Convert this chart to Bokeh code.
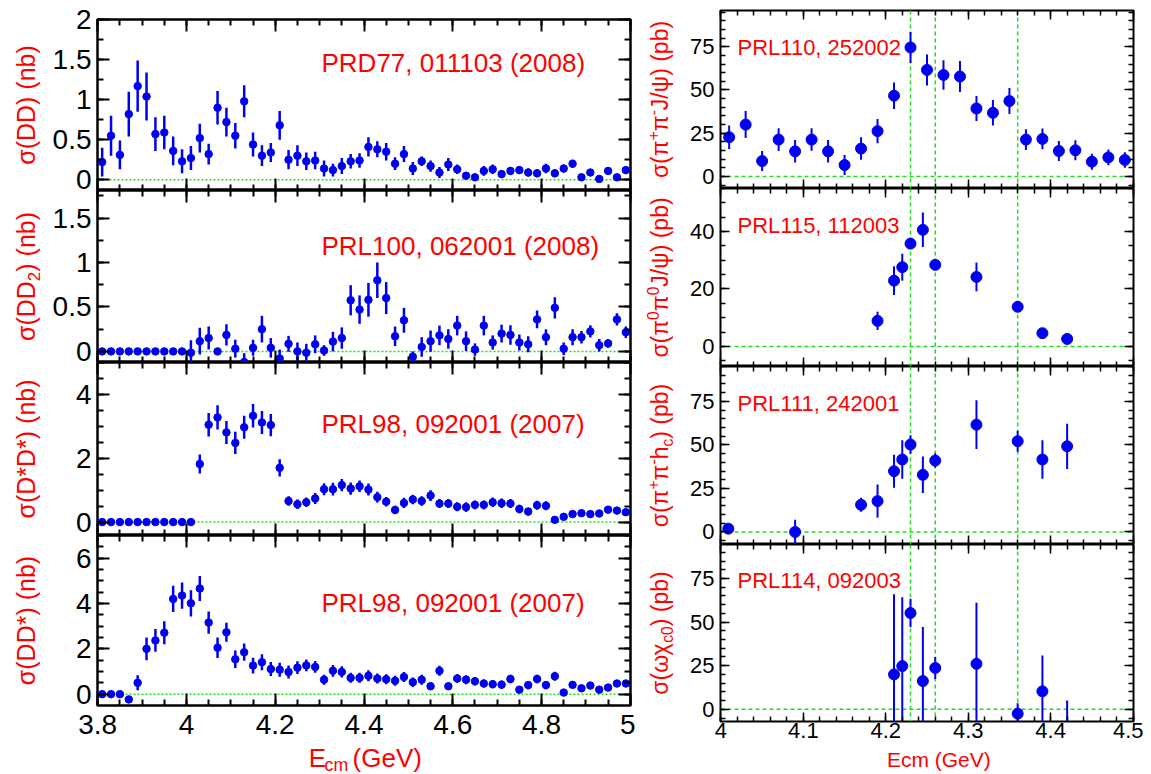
import math
import numpy as np
from bokeh.plotting import figure
from bokeh.models import Range1d, FixedTicker, LinearAxis, Span, Label, ColumnDataSource
from bokeh.layouts import row, column
from bokeh.embed import file_html
from bokeh.resources import INLINE

FONT = "Liberation Sans"
BLUE = "#0000f0"
RED = "#ff0000"
GREEN = "#22dd22"

# ---------------------------------------------------------------- data
ecm_scan = [3.81, 3.83, 3.85, 3.87, 3.89, 3.91, 3.93, 3.95, 3.97, 3.99,
            4.01, 4.03, 4.05, 4.07, 4.09, 4.11, 4.13, 4.15, 4.17, 4.19,
            4.21, 4.23, 4.25, 4.27, 4.29, 4.31, 4.33, 4.35, 4.37, 4.39,
            4.41, 4.43, 4.45, 4.47, 4.49, 4.51, 4.53, 4.55, 4.57, 4.59,
            4.61, 4.63, 4.65, 4.67, 4.69, 4.71, 4.73, 4.75, 4.77, 4.79,
            4.81, 4.83, 4.85, 4.87, 4.89, 4.91, 4.93, 4.95, 4.97, 4.99]

sig_dd = [0.22, 0.55, 0.31, 0.82, 1.17, 1.04, 0.57, 0.59, 0.36, 0.23,
          0.27, 0.52, 0.32, 0.90, 0.72, 0.55, 0.98, 0.44, 0.30, 0.34,
          0.68, 0.25, 0.30, 0.23, 0.24, 0.14, 0.12, 0.17, 0.23, 0.24,
          0.41, 0.38, 0.35, 0.20, 0.32, 0.14, 0.23, 0.17, 0.09, 0.19,
          0.13, 0.05, 0.03, 0.11, 0.13, 0.07, 0.11, 0.12, 0.09, 0.08,
          0.14, 0.08, 0.14, 0.20, 0.03, 0.09, 0.01, 0.11, 0.03, 0.12]
err_dd = [0.18, 0.25, 0.18, 0.28, 0.32, 0.30, 0.21, 0.21, 0.18, 0.15,
          0.15, 0.18, 0.13, 0.21, 0.18, 0.16, 0.20, 0.15, 0.13, 0.12,
          0.18, 0.12, 0.13, 0.11, 0.11, 0.10, 0.08, 0.10, 0.09, 0.09,
          0.12, 0.10, 0.11, 0.08, 0.10, 0.08, 0.06, 0.07, 0.07, 0.08,
          0.06, 0.04, 0.04, 0.06, 0.06, 0.05, 0.05, 0.05, 0.05, 0.05,
          0.06, 0.05, 0.05, 0.05, 0.03, 0.04, 0.03, 0.04, 0.03, 0.04]

sig_dd2 = [0, 0, 0, 0, 0, 0, 0, 0, 0, 0,
           -0.015, 0.115, 0.15, 0.0, 0.185, 0.03, -0.12, 0.04, 0.25, 0.04,
           -0.08, 0.085, 0.0, -0.015, 0.08, 0.01, 0.11, 0.15, 0.575, 0.47,
           0.58, 0.80, 0.60, 0.17, 0.35, -0.06, 0.05, 0.115, 0.18, 0.14,
           0.29, 0.115, 0.02, 0.29, 0.10, 0.20, 0.185, 0.10, 0.08, 0.36,
           0.16, 0.49, 0.03, 0.16, 0.16, 0.225, 0.07, 0.09, 0.36, 0.215]
err_dd2 = [0, 0, 0, 0, 0, 0, 0, 0, 0, 0,
           0.14, 0.15, 0.13, 0.0, 0.12, 0.10, 0.10, 0.09, 0.15, 0.11,
           0.10, 0.09, 0.10, 0.10, 0.10, 0.06, 0.11, 0.12, 0.17, 0.16,
           0.19, 0.20, 0.18, 0.11, 0.14, 0.06, 0.11, 0.12, 0.11, 0.11,
           0.11, 0.11, 0.07, 0.11, 0.08, 0.10, 0.11, 0.09, 0.09, 0.10,
           0.09, 0.12, 0.07, 0.09, 0.07, 0.07, 0.07, 0.05, 0.07, 0.065]

sig_dsds = [0, 0, 0, 0, 0, 0, 0, 0, 0, 0,
            0, 1.82, 3.05, 3.28, 2.81, 2.48, 2.97, 3.33, 3.12, 3.04,
            1.70, 0.66, 0.56, 0.62, 0.74, 1.03, 1.03, 1.16, 1.05, 1.12,
            1.02, 0.78, 0.64, 0.38, 0.60, 0.71, 0.66, 0.83, 0.58, 0.58,
            0.48, 0.47, 0.54, 0.54, 0.62, 0.59, 0.58, 0.41, 0.33, 0.53,
            0.51, 0.07, 0.165, 0.25, 0.28, 0.25, 0.27, 0.39, 0.36, 0.31]
err_dsds = [0, 0, 0, 0, 0, 0, 0, 0, 0, 0,
            0, 0.30, 0.37, 0.38, 0.36, 0.35, 0.36, 0.37, 0.36, 0.35,
            0.27, 0.15, 0.15, 0.15, 0.17, 0.19, 0.20, 0.19, 0.19, 0.18,
            0.19, 0.17, 0.15, 0.13, 0.16, 0.15, 0.15, 0.17, 0.14, 0.14,
            0.14, 0.15, 0.14, 0.14, 0.15, 0.15, 0.14, 0.13, 0.12, 0.14,
            0.14, 0.07, 0.08, 0.08, 0.08, 0.08, 0.08, 0.09, 0.09, 0.08]

sig_dds = [0, 0, 0, -0.23, 0.5, 2.0, 2.37, 2.71, 4.2, 4.35,
           4.01, 4.66, 3.16, 2.05, 2.73, 1.54, 1.85, 1.26, 1.41, 1.11,
           1.08, 0.98, 1.17, 1.27, 1.2, 0.64, 1.03, 0.98, 0.72, 0.72,
           0.81, 0.69, 0.66, 0.59, 0.76, 0.53, 0.64, 0.35, 1.03, 0.35,
           0.69, 0.64, 0.57, 0.47, 0.44, 0.42, 0.67, 0.2, 0.4, 0.67,
           0.4, 0.79, 0.07, 0.41, 0.26, 0.38, 0.2, 0.29, 0.47, 0.47]
err_dds = [0, 0, 0, 0.12, 0.33, 0.5, 0.5, 0.51, 0.58, 0.58,
           0.58, 0.55, 0.49, 0.45, 0.42, 0.39, 0.38, 0.35, 0.35, 0.31,
           0.31, 0.29, 0.28, 0.26, 0.26, 0.22, 0.26, 0.25, 0.22, 0.22,
           0.24, 0.22, 0.22, 0.22, 0.22, 0.21, 0.22, 0.17, 0.22, 0.17,
           0.19, 0.2, 0.19, 0.18, 0.18, 0.18, 0.19, 0.13, 0.18, 0.19,
           0.18, 0.2, 0.1, 0.13, 0.11, 0.13, 0.1, 0.1, 0.1, 0.1]

ecm_pipijpsi = [4.01, 4.03, 4.05, 4.07, 4.09, 4.11, 4.13, 4.15, 4.17, 4.19,
                4.21, 4.23, 4.25, 4.27, 4.29, 4.31, 4.33, 4.35, 4.37, 4.39,
                4.41, 4.43, 4.45, 4.47, 4.49]
sig_pipijpsi = [22.7, 30.0, 8.9, 21.3, 14.5, 21.3, 14.5, 6.6, 16.1, 26.2,
                46.7, 74.6, 61.6, 58.7, 57.8, 39.3, 36.8, 43.6, 21.3, 21.7,
                14.7, 15.1, 8.5, 11.0, 9.5]
err_pipijpsi = [6.8, 7.8, 5.8, 6.6, 6.5, 6.5, 6.5, 5.8, 6.5, 7.0,
                7.7, 9.0, 9.0, 8.5, 9.0, 7.2, 7.4, 7.5, 6.0, 6.0,
                5.8, 5.8, 4.6, 4.6, 4.5]

ecm_pi0pi0jpsi = [4.19, 4.21, 4.22, 4.23, 4.245, 4.26, 4.31, 4.36, 4.39, 4.42]
sig_pi0pi0jpsi = [8.9, 22.9, 27.6, 35.8, 40.6, 28.4, 24.2, 13.8, 4.6, 2.6]
err_pi0pi0jpsi = [3.2, 5.0, 4.7, 1.7, 6.0, 1.7, 5.0, 1.2, 1.3, 1.6]

ecm_pipihc = [4.009, 4.09, 4.17, 4.19, 4.21, 4.22, 4.23, 4.245, 4.26, 4.31, 4.36, 4.39, 4.42]
sig_pipihc = [1.9, 0.0, 15.6, 17.7, 34.9, 41.6, 50.2, 32.8, 41.0, 61.6, 52.1, 41.6, 49.2]
err_pipihc = [0.8, 7.0, 4.0, 9.5, 9.5, 11.0, 5.3, 10.5, 4.2, 14.0, 6.0, 11.0, 13.0]

ecm_omegachic0 = [4.21, 4.22, 4.23, 4.245, 4.26, 4.31, 4.36, 4.39, 4.42]
sig_omegachic0 = [20.0, 24.8, 55.2, 16.2, 23.7, 26.1, -2.5, 10.3, -15.0]
err_omegachic0 = [46.0, 39.5, 8.2, 31.0, 6.3, 35.0, 6.0, 20.6, 20.0]

ref_lines_ecm = [4.23, 4.26, 4.36]

left_x_ticks = [3.8, 4.0, 4.2, 4.4, 4.6, 4.8, 5.0]
left_x_labels = ["3.8", "4", "4.2", "4.4", "4.6", "4.8", "5"]
right_x_ticks = [4.0, 4.1, 4.2, 4.3, 4.4, 4.5]
right_x_labels = ["4", "4.1", "4.2", "4.3", "4.4", "4.5"]
dd_ticks, dd_labels = [0, 0.5, 1, 1.5, 2], ["0", "0.5", "1", "1.5", "2"]
dd2_ticks, dd2_labels = [0, 0.5, 1, 1.5], ["0", "0.5", "1", "1.5"]
dsds_ticks, dsds_labels = [0, 2, 4], ["0", "2", "4"]
dds_ticks, dds_labels = [0, 2, 4, 6], ["0", "2", "4", "6"]
pb_ticks, pb_labels = [0, 25, 50, 75], ["0", "25", "50", "75"]
pb2_ticks, pb2_labels = [0, 20, 40], ["0", "20", "40"]

# ---------------------------------------------------------------- helpers
CHAR_W = {' ': .278, '(': .333, ')': .333, '*': .389, '+': .584, '-': .333,
          '/': .278, 'D': .722, 'E': .667, 'G': .778, 'J': .5, 'V': .667,
          'b': .556, 'c': .5, 'e': .556, 'h': .556, 'm': .833, 'n': .556,
          'p': .556, 'σ': .617, 'π': .69, 'ψ': .713, 'ω': .781, 'χ': .525}
BASE_K = 0.36   # measured shift of the drawn baseline below the anchor, in em


def text_w(s, fs):
    return sum(CHAR_W.get(ch, 0.556) for ch in s) * fs


class Geo:
    """Frame geometry in page pixels, used only to place text labels."""
    def __init__(self, left, top, w, h, xr, yr):
        self.left, self.top, self.w, self.h, self.xr, self.yr = left, top, w, h, xr, yr

    def dx(self, px):
        return self.xr[0] + (px - self.left) / self.w * (self.xr[1] - self.xr[0])

    def dy(self, py):
        return self.yr[1] - (py - self.top) / self.h * (self.yr[1] - self.yr[0])


def style_axis(ax, ticks, minor, labels, show, fs, maj, mnr, tw, standoff):
    ax.ticker = FixedTicker(ticks=ticks, minor_ticks=minor)
    ax.axis_line_color = None
    ax.major_tick_in = maj
    ax.major_tick_out = 0
    ax.minor_tick_in = mnr
    ax.minor_tick_out = 0
    ax.major_tick_line_color = "black"
    ax.minor_tick_line_color = "black"
    ax.major_tick_line_width = tw
    ax.minor_tick_line_width = tw
    ax.axis_label = None
    if show:
        ax.major_label_overrides = {t: l for t, l in zip(ticks, labels)}
        ax.major_label_text_font = FONT
        ax.major_label_text_font_size = f"{fs}px"
        ax.major_label_text_color = "black"
        ax.major_label_standoff = standoff
    else:
        ax.major_label_text_font_size = "0px"
        ax.major_label_text_color = None
        ax.major_label_standoff = 0


def make_panel(g, width, height, borders, xt, xl, xminor, yt, yl, yminor, show_x,
               fs, maj, mnr, tw, olw, xso, yso):
    p = figure(width=width, height=height,
               x_range=Range1d(*g.xr), y_range=Range1d(*g.yr),
               output_backend="svg", toolbar_location=None, tools="",
               min_border_left=borders[0], min_border_right=borders[1],
               min_border_top=borders[2], min_border_bottom=borders[3])
    p.xgrid.visible = False
    p.ygrid.visible = False
    p.background_fill_color = "white"
    p.border_fill_color = "white"
    p.outline_line_color = "black"
    p.outline_line_width = olw
    p.outline_line_alpha = 1.0
    p.add_layout(LinearAxis(), "above")
    p.add_layout(LinearAxis(), "right")
    style_axis(p.below[0], xt, xminor, xl, show_x, fs, maj, mnr, tw, xso)
    style_axis(p.above[0], xt, xminor, xl, False, fs, maj, mnr, tw, 0)
    style_axis(p.left[0], yt, yminor, yl, True, fs, maj, mnr, tw, yso)
    style_axis(p.right[0], yt, yminor, yl, False, fs, maj, mnr, tw, 0)
    return p


def make_text_fig(width, height):
    p = figure(width=width, height=height, x_range=Range1d(0, width),
               y_range=Range1d(0, height), x_axis_type=None, y_axis_type=None,
               output_backend="svg", toolbar_location=None, tools="",
               min_border_left=0, min_border_right=0, min_border_top=0,
               min_border_bottom=0)
    p.xgrid.visible = False
    p.ygrid.visible = False
    p.outline_line_color = None
    p.background_fill_color = "white"
    p.border_fill_color = "white"
    return p


def add_points(p, x, y, e, size, lw):
    y = np.asarray(y, float)
    e = np.asarray(e, float)
    src = ColumnDataSource(dict(x=x, y=y, lo=y - e, hi=y + e))
    p.segment(x0="x", y0="lo", x1="x", y1="hi", source=src, line_color=BLUE, line_width=lw)
    p.scatter(x="x", y="y", source=src, marker="circle", size=size,
              fill_color=BLUE, line_color=BLUE)


def rich_vertical(p, g, segs, fs, base_px, center_py):
    small = fs * 0.68
    widths = [text_w(t, fs if k == "n" else small) for t, k in segs]
    y = center_py + sum(widths) / 2.0
    for (t, k), w in zip(segs, widths):
        size = fs if k == "n" else small
        lead = text_w(t[:len(t) - len(t.lstrip())], size)
        bx = base_px + (-0.42 * fs if k == "sup" else (0.22 * fs if k == "sub" else 0))
        bx -= BASE_K * size
        p.add_layout(Label(x=g.dx(bx), y=g.dy(y - lead), text=t.strip(), angle=math.pi / 2,
                           text_align="left", text_baseline="alphabetic",
                           text_font=FONT, text_font_size=f"{size:.1f}px",
                           text_color=RED))
        y -= w


def rich_horizontal(p, g, segs, fs, base_py, center_px):
    small = fs * 0.68
    widths = [text_w(t, fs if k == "n" else small) for t, k in segs]
    x = center_px - sum(widths) / 2.0
    for (t, k), w in zip(segs, widths):
        size = fs if k == "n" else small
        lead = text_w(t[:len(t) - len(t.lstrip())], size)
        by = base_py + (0.16 * fs if k == "sub" else 0) - BASE_K * size
        p.add_layout(Label(x=g.dx(x + lead), y=g.dy(by), text=t.strip(), text_align="left",
                           text_baseline="alphabetic", text_font=FONT,
                           text_font_size=f"{size:.1f}px", text_color=RED))
        x += w


def note(p, g, text, px, py, fs):
    p.add_layout(Label(x=g.dx(px), y=g.dy(py), text=text, text_align="left",
                       text_baseline="middle", text_font=FONT,
                       text_font_size=f"{fs}px", text_color=RED))


# ---------------------------------------------------------------- page geometry (page has no margin)
TOP = 0
LLAB_X, LLAB_W = 0, 48          # left y-title strip
LX, LW = 97, 533                # left frames
LPAN_X = LLAB_X + LLAB_W        # 48
LPAN_W = 587                    # 49 + 533 + 5
RLAB_X, RLAB_W = LPAN_X + LPAN_W, 50   # 635
RPAN_X = RLAB_X + RLAB_W        # 685
RX, RW = 720, 413
RPAN_W = 458                    # 35 + 413 + 10
PAGE_BOTTOM = 773
LEFT_XLAB_SHIFT = -24           # measured offset of the text strip under the left column
RIGHT_XLAB_SHIFT = -5           # measured offset of the text strip under the right column

left_tops = [19, 190, 362, 535]
left_h = [171, 172, 173, 170]
left_bottom_border = 42
right_tops = [10, 188, 366, 544]
right_h = [178, 178, 178, 177]
right_bottom_border = 28

# ---------------------------------------------------------------- left column
left_yr = [(-0.135, 2.003), (-0.125, 1.81), (-0.42, 5.0), (-0.5, 7.0)]
left_xr = (3.7995, 5.0005)
left_minor_x = [round(3.8 + 0.05 * i, 3) for i in range(25)]
left_specs = [
    (sig_dd, err_dd, dd_ticks, dd_labels, [0.25 * i for i in range(9)],
     [("σ(DD) (nb)", "n")], "PRD77, 011103 (2008)", 62),
    (sig_dd2, err_dd2, dd2_ticks, dd2_labels, [0.25 * i for i in range(8)],
     [("σ(DD", "n"), ("2", "sub"), (") (nb)", "n")], "PRL100, 062001 (2008)", 245),
    (sig_dsds, err_dsds, dsds_ticks, dsds_labels, [0.5 * i for i in range(11)],
     [("σ(D*D*) (nb)", "n")], "PRL98, 092001 (2007)", 423),
    (sig_dds, err_dds, dds_ticks, dds_labels, [0.5 * i for i in range(15)],
     [("σ(DD*) (nb)", "n")], "PRL98, 092001 (2007)", 602),
]
left_col_h = (left_tops[0] - TOP) + sum(left_h) + left_bottom_border
left_title_fig = make_text_fig(LLAB_W, left_col_h)
gl_title = Geo(LLAB_X, TOP, LLAB_W, left_col_h, (0, LLAB_W), (0, left_col_h))

left_figs = []
for i, (sv, ev, yt, yl, ym, ylab, ref, ref_y) in enumerate(left_specs):
    g = Geo(LX, left_tops[i], LW, left_h[i], left_xr, left_yr[i])
    last = i == 3
    bt = left_tops[0] - TOP if i == 0 else 0
    bb = left_bottom_border if last else 0
    p = make_panel(g, LPAN_W, bt + left_h[i] + bb, (LX - LPAN_X, LPAN_X + LPAN_W - LX - LW, bt, bb),
                   left_x_ticks, left_x_labels, left_minor_x, yt, yl, ym,
                   last, 28, 12, 6, 2, 2.5, 9, 6)
    p.add_layout(Span(location=0, dimension="width", line_color=GREEN,
                      line_dash="2 2", line_width=1.5, level="underlay"))
    add_points(p, ecm_scan, sv, ev, 7.5, 2.5)
    note(p, g, ref, 321, ref_y, 26)
    rich_vertical(left_title_fig, gl_title, ylab, 25, 34, left_tops[i] + left_h[i] / 2.0)
    left_figs.append(p)

left_xlab_top = TOP + left_col_h
left_xlab_h = PAGE_BOTTOM - left_xlab_top
left_xlab_fig = make_text_fig(LPAN_W, left_xlab_h)
gl_x = Geo(LPAN_X, left_xlab_top, LPAN_W, left_xlab_h, (0, LPAN_W), (0, left_xlab_h))
rich_horizontal(left_xlab_fig, gl_x, [("E", "n"), ("cm", "sub"), (" (GeV)", "n")], 26,
                767, LX + LW / 2.0 + LEFT_XLAB_SHIFT)

# ---------------------------------------------------------------- right column
right_yr = [(-7, 96), (-7, 55), (-7.2, 95), (-7, 94.5)]
right_xr = (3.9995, 4.5005)
right_minor_x = [round(4.0 + 0.02 * i, 3) for i in range(26)]
right_specs = [
    (ecm_pipijpsi, sig_pipijpsi, err_pipijpsi, pb_ticks, pb_labels, [5 * i for i in range(-1, 20)],
     [("σ(π", "n"), ("+", "sup"), ("π", "n"), ("-", "sup"), ("J/ψ) (pb)", "n")], "PRL110, 252002", 47),
    (ecm_pi0pi0jpsi, sig_pi0pi0jpsi, err_pi0pi0jpsi, pb2_ticks, pb2_labels, [5 * i for i in range(-1, 12)],
     [("σ(π", "n"), ("0", "sup"), ("π", "n"), ("0", "sup"), ("J/ψ) (pb)", "n")], "PRL115, 112003", 225),
    (ecm_pipihc, sig_pipihc, err_pipihc, pb_ticks, pb_labels, [5 * i for i in range(-1, 20)],
     [("σ(π", "n"), ("+", "sup"), ("π", "n"), ("-", "sup"), ("h", "n"), ("c", "sub"), (") (pb)", "n")],
     "PRL111, 242001", 403),
    (ecm_omegachic0, sig_omegachic0, err_omegachic0, pb_ticks, pb_labels, [5 * i for i in range(-1, 19)],
     [("σ(ωχ", "n"), ("c0", "sub"), (") (pb)", "n")], "PRL114, 092003", 580),
]
right_col_h = (right_tops[0] - TOP) + sum(right_h) + right_bottom_border
right_title_fig = make_text_fig(RLAB_W, right_col_h)
gr_title = Geo(RLAB_X, TOP, RLAB_W, right_col_h, (0, RLAB_W), (0, right_col_h))

right_figs = []
for i, (xv, sv, ev, yt, yl, ym, ylab, ref, ref_y) in enumerate(right_specs):
    g = Geo(RX, right_tops[i], RW, right_h[i], right_xr, right_yr[i])
    last = i == 3
    bt = right_tops[0] - TOP if i == 0 else 0
    bb = right_bottom_border if last else 0
    p = make_panel(g, RPAN_W, bt + right_h[i] + bb, (RX - RPAN_X, RPAN_X + RPAN_W - RX - RW, bt, bb),
                   right_x_ticks, right_x_labels, right_minor_x, yt, yl, ym,
                   last, 22, 9, 5, 1.5, 2, 1, 6)
    p.add_layout(Span(location=0, dimension="width", line_color=GREEN,
                      line_dash="4 3", line_width=1.5, level="underlay"))
    for xl_ in ref_lines_ecm:
        p.add_layout(Span(location=xl_, dimension="height", line_color=GREEN,
                          line_dash="4 3", line_width=1.5, level="underlay"))
    add_points(p, xv, sv, ev, 11, 2)
    note(p, g, ref, 737, ref_y, 22)
    rich_vertical(right_title_fig, gr_title, ylab, 23, 668, right_tops[i] + right_h[i] / 2.0)
    right_figs.append(p)

right_xlab_top = TOP + right_col_h
right_xlab_h = PAGE_BOTTOM - right_xlab_top
right_xlab_fig = make_text_fig(RPAN_W, right_xlab_h)
gr_x = Geo(RPAN_X, right_xlab_top, RPAN_W, right_xlab_h, (0, RPAN_W), (0, right_xlab_h))
rich_horizontal(right_xlab_fig, gr_x, [("Ecm (GeV)", "n")], 21,
                767, RX + RW / 2.0 + RIGHT_XLAB_SHIFT)

layout = row(left_title_fig,
             column(*left_figs, left_xlab_fig),
             right_title_fig,
             column(*right_figs, right_xlab_fig))
open("out.html", "w").write(file_html(layout, INLINE, "cross sections"))
